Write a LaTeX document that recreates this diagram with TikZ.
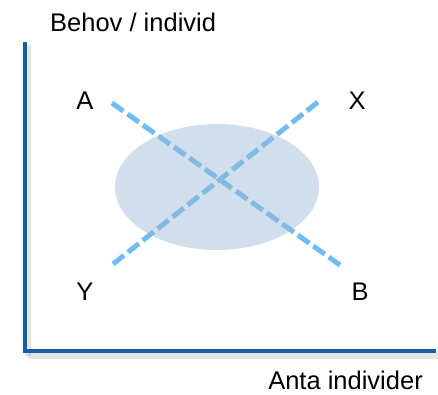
\documentclass[tikz,border=0pt]{standalone}
\usepackage{fontspec}
\setmainfont{Liberation Sans}
\begin{document}
\begin{tikzpicture}[x=1pt,y=-1pt,
  lbl/.style={inner sep=0pt,anchor=base,font=\fontsize{25.5}{30}\selectfont},
  axis/.style={line width=4.5pt,draw=axisblue},
  axshadow/.style={line width=6pt,draw=black,opacity=0.10},
  dline/.style={line width=5pt,draw=dashblue,dash pattern=on 14pt off 5pt},
  blob/.style={fill=blobfill,opacity=0.45}]
\definecolor{axisblue}{RGB}{20,96,160}
\definecolor{dashblue}{RGB}{112,188,244}
\definecolor{blobfill}{RGB}{150,185,210}
\useasboundingbox (0,0) rectangle (438,394);
% axes shadows
\draw[axshadow] (28,45) -- (28,356);
\draw[axshadow] (28,356) -- (438,356);
% axes
\coordinate (ytop) at (25,42);
\coordinate (ybot) at (25,353);
\coordinate (xl) at (27,351);
\coordinate (xr) at (436,351);
\draw[axis] (ytop) -- (ybot);
\draw[axis] (xl) -- (xr);
% labels
\node[lbl,anchor=base west] (title) at (50,31) {Behov / individ};
\node[lbl,anchor=base east] (xlabel) at (423,389) {Anta individer};
\node[lbl] (A) at (85,109) {A};
\node[lbl] (X) at (357,109) {X};
\node[lbl] (Y) at (85,300) {Y};
\node[lbl] (B) at (360,300) {B};
% dashed lines
\coordinate (a1) at (112,103);
\coordinate (b1) at (340,265);
\coordinate (y1) at (113,264);
\coordinate (x1) at (318,102);
\draw[dline] (a1) -- (b1);
\draw[dline] (y1) -- (x1);
% ellipse
\fill[blob] (217,187) ellipse [x radius=102, y radius=63];
\end{tikzpicture}
\end{document}
